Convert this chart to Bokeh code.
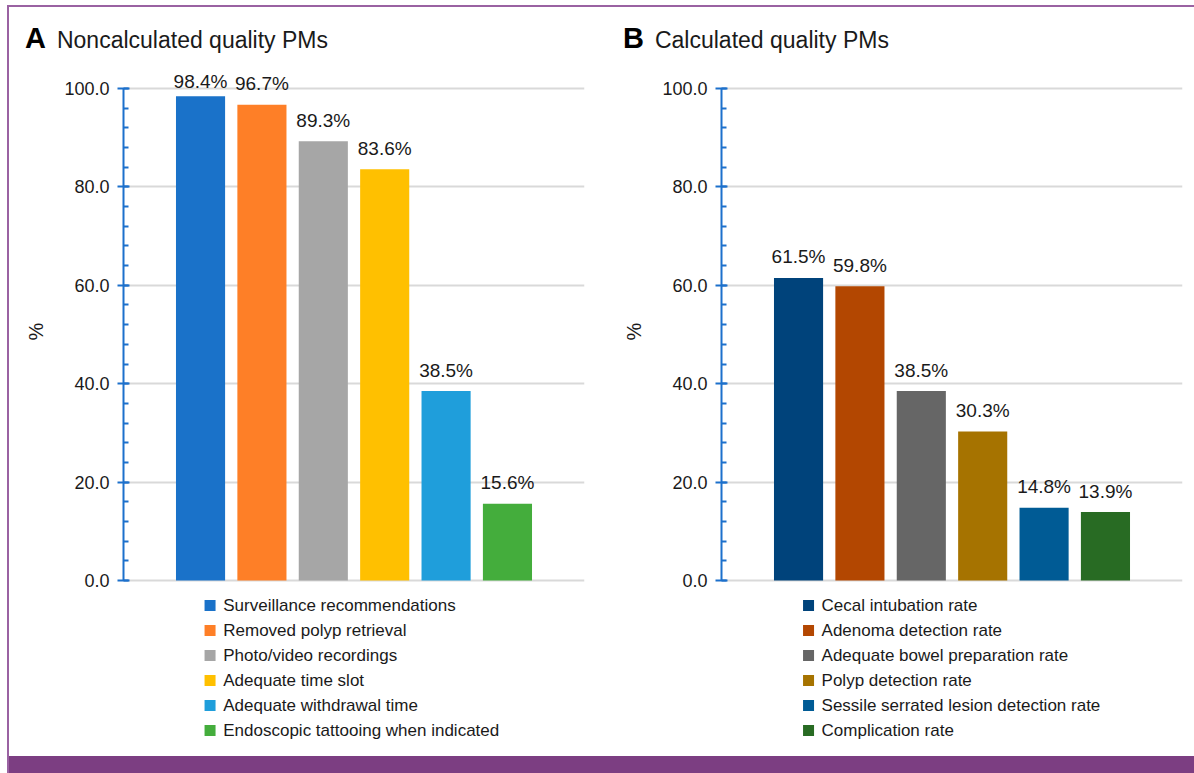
import numpy as np
from bokeh.plotting import figure
from bokeh.models import Range1d, SingleIntervalTicker, Div, PrintfTickFormatter
from bokeh.layouts import row, column
from bokeh.embed import file_html
from bokeh.resources import INLINE
from bokeh.core.properties import value

# ---- data -------------------------------------------------------------
a_letter = "A"
a_title = "Noncalculated quality PMs"
a_labels = [
    "Surveillance recommendations",
    "Removed polyp retrieval",
    "Photo/video recordings",
    "Adequate time slot",
    "Adequate withdrawal time",
    "Endoscopic tattooing when indicated",
]
a_values = [98.4, 96.7, 89.3, 83.6, 38.5, 15.6]
a_colors = ["#1a72c9", "#fe7f27", "#a6a6a6", "#ffc000", "#1f9edb", "#44ad3c"]

b_letter = "B"
b_title = "Calculated quality PMs"
b_labels = [
    "Cecal intubation rate",
    "Adenoma detection rate",
    "Adequate bowel preparation rate",
    "Polyp detection rate",
    "Sessile serrated lesion detection rate",
    "Complication rate",
]
b_values = [61.5, 59.8, 38.5, 30.3, 14.8, 13.9]
b_colors = ["#00437b", "#b34701", "#666666", "#a67300", "#005b95", "#286b23"]

y_axis_label = "%"

# ---- style ------------------------------------------------------------
FONT = "Liberation Sans"
INK = "#1a1a1a"
AXIS_BLUE = "#1c70cc"
GRID = "#d9d9d9"
FRAME = "#9a62a2"
BAND = "#7c3e82"

HEAD_H, CHART_H, LEG_H = 65, 518, 166
PX_Y = 4.92                          # pixels per percent point
Y_LO, Y_HI = -10 / PX_Y, 508 / PX_Y  # 0..100 axis with a little room
X_LO, X_HI = -1.255, 6.255          # six bars at 0..5
LABEL_GAP = 21                       # px between bar top and its value label
LABEL_CAP = 100 + 7 / PX_Y           # highest value-label position


def make_heading(letter, title, width):
    html = (
        f'<div style="margin:17px 0 0 16px; line-height:29px; white-space:nowrap; '
        f'font-family:\'{FONT}\';">'
        f'<span style="font-size:29px; font-weight:bold; color:#000;">{letter}</span>'
        f'<span style="font-size:23px; color:{INK}; margin-left:11px;">{title}</span>'
        f'</div>'
    )
    return Div(text=html, width=width, height=HEAD_H, margin=0)


def base_figure(width, height, y_range, left, right):
    return figure(
        width=width, height=height,
        x_range=Range1d(X_LO, X_HI), y_range=y_range,
        output_backend="svg", toolbar_location=None,
        min_border_left=left, min_border_right=right,
        min_border_top=0, min_border_bottom=0,
        x_axis_type=None, outline_line_color=None,
        background_fill_color="white", border_fill_color="white",
    )


def make_chart(values, colors, width, left, right):
    p = base_figure(width, CHART_H, Range1d(Y_LO, Y_HI), left, right)
    idx = np.arange(len(values))
    vals = np.array(values)

    ax = p.yaxis[0]
    ax.ticker = SingleIntervalTicker(interval=20, num_minor_ticks=5)
    ax.bounds = (0, 100)
    ax.formatter = PrintfTickFormatter(format="%.1f")
    ax.axis_line_color = AXIS_BLUE
    ax.axis_line_width = 2
    ax.major_tick_line_color = AXIS_BLUE
    ax.major_tick_line_width = 2
    ax.major_tick_in = 6
    ax.major_tick_out = 6
    ax.minor_tick_line_color = AXIS_BLUE
    ax.minor_tick_line_width = 2
    ax.minor_tick_in = 5
    ax.minor_tick_out = 0
    ax.major_label_text_font = FONT
    ax.major_label_text_font_size = "18px"
    ax.major_label_text_color = INK
    ax.major_label_standoff = 8
    ax.axis_label = y_axis_label
    ax.axis_label_text_font = FONT
    ax.axis_label_text_font_size = "20px"
    ax.axis_label_text_font_style = "normal"
    ax.axis_label_text_color = INK
    ax.axis_label_standoff = 14

    p.xgrid.visible = False
    p.ygrid.bounds = (0, 100)
    p.ygrid.grid_line_color = GRID
    p.ygrid.grid_line_width = 2

    p.vbar(x=idx, top=vals, bottom=0, width=0.8, fill_color=colors, line_color=None)

    # value labels above the bars (kept near the 100 line)
    p.text(
        x=idx, y=np.minimum(vals + LABEL_GAP / PX_Y, LABEL_CAP),
        text=[f"{v:.1f}%" for v in vals],
        text_align="center", text_baseline="alphabetic",
        text_font=value(FONT), text_font_size="19px", text_color=INK,
    )
    return p


def make_legend(labels, colors, width, left, right, sq_x, txt_x):
    g = base_figure(width, LEG_H, Range1d(LEG_H, 0), left, right)
    g.yaxis.visible = False
    g.grid.visible = False
    rows = 15 + 25 * np.arange(len(labels))
    g.scatter(x=sq_x, y=rows, marker="square", size=11,
              fill_color=colors, line_color=None)
    g.text(x=txt_x, y=rows, text=labels, text_align="left",
           text_baseline="middle", text_font=value(FONT),
           text_font_size="17px", text_color=INK)
    return g


WA, WB = 598, 587
col_a = column(
    make_heading(a_letter, a_title, WA),
    make_chart(a_values, a_colors, WA, 114, 23),
    make_legend(a_labels, a_colors, WA, 114, 23, 0.155, 0.37),
    spacing=0,
)
col_b = column(
    make_heading(b_letter, b_title, WB),
    make_chart(b_values, b_colors, WB, 114, 12),
    make_legend(b_labels, b_colors, WB, 114, 12, 0.163, 0.375),
    spacing=0,
)

band = Div(text="", width=1185, height=17, margin=0,
           styles={"background-color": BAND})

root = column(
    row(col_a, col_b, spacing=0),
    band,
    spacing=0,
    margin=(5, 0, 0, 7),
    styles={"border-left": f"2px solid {FRAME}", "border-top": f"2px solid {FRAME}"},
)

open("out.html", "w").write(file_html(root, INLINE))
